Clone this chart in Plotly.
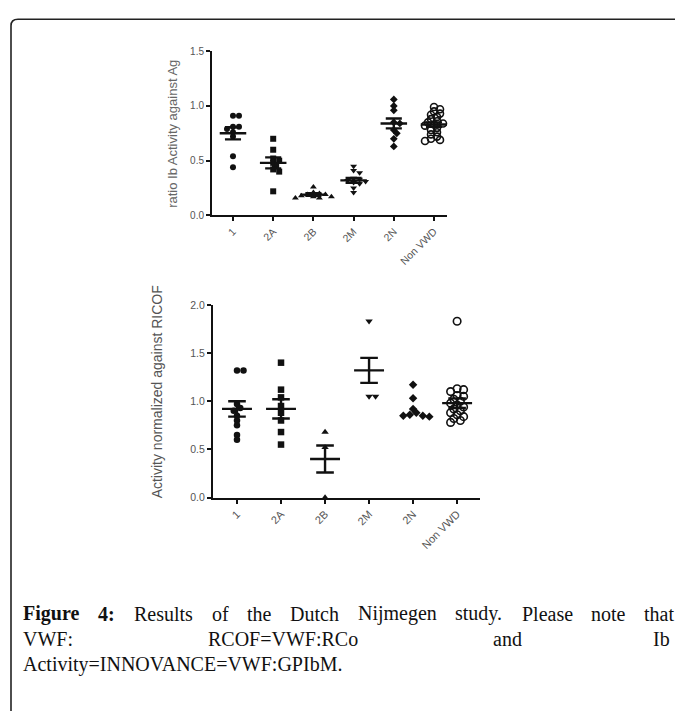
import plotly.graph_objects as go

# ---------------- data ----------------
categories = ["1", "2A", "2B", "2M", "2N", "Non VWD"]

top_1 = [0.91, 0.91, 0.81, 0.81, 0.79, 0.76, 0.72, 0.54, 0.44]
top_2A = [0.70, 0.60, 0.52, 0.50, 0.48, 0.45, 0.42, 0.40, 0.22]
top_2B = [0.26, 0.21, 0.20, 0.19, 0.19, 0.18, 0.17, 0.17, 0.16, 0.16]
top_2M = [0.45, 0.41, 0.39, 0.34, 0.33, 0.32, 0.31, 0.30, 0.29, 0.25, 0.21]
top_2N = [1.06, 1.00, 0.96, 0.85, 0.84, 0.78, 0.75, 0.70, 0.63]
top_NV = [0.99, 0.97, 0.95, 0.93, 0.92, 0.90, 0.88, 0.86, 0.85, 0.84,
          0.83, 0.82, 0.80, 0.78, 0.76, 0.74, 0.72, 0.70, 0.69, 0.68]
top_mean = [0.75, 0.48, 0.19, 0.32, 0.84, 0.83]
top_sem = [0.055, 0.05, 0.012, 0.022, 0.045, 0.02]

bot_1 = [1.32, 1.32, 0.97, 0.93, 0.90, 0.85, 0.80, 0.75, 0.65, 0.60]
bot_2A = [1.40, 1.12, 1.04, 0.95, 0.88, 0.80, 0.68, 0.55]
bot_2B = [0.68, 0.52, 0.00]
bot_2M = [1.83, 1.05, 1.05]
bot_2N = [1.17, 1.03, 0.92, 0.88, 0.86, 0.85, 0.85, 0.84]
bot_NV = [1.83, 1.13, 1.12, 1.10, 1.06, 1.05, 1.02, 1.00, 0.98, 0.96,
          0.94, 0.92, 0.90, 0.88, 0.86, 0.84, 0.82, 0.80, 0.78]
bot_mean = [0.92, 0.92, 0.40, 1.32, None, 0.98]
bot_sem = [0.08, 0.10, 0.14, 0.13, None, 0.05]

top_ticks = [0.0, 0.5, 1.0, 1.5]
bot_ticks = [0.0, 0.5, 1.0, 1.5, 2.0]

top_groups = [top_1, top_2A, top_2B, top_2M, top_2N, top_NV]
bot_groups = [bot_1, bot_2A, bot_2B, bot_2M, bot_2N, bot_NV]

# ---------------- styling ----------------
W, H = 675, 711
symbols = ["circle", "square", "triangle-up", "triangle-down", "diamond", "circle-open"]
INK = "#111111"
TICKCOL = "#555555"


def beeswarm(vals, px_per_unit, px_per_cat, size):
    """Place points side by side (GraphPad style), allowing slight overlap."""
    placed = []
    order = sorted(range(len(vals)), key=lambda i: -vals[i])
    offs = [0.0] * len(vals)
    cands = [0]
    for k in range(1, 8):
        cands += [k, -k]
    for i in order:
        y = vals[i] * px_per_unit
        for c in cands:
            x = c * size * 0.5
            ok = True
            for (px, py) in placed:
                if (px - x) ** 2 + (py - y) ** 2 < (size * 0.72) ** 2:
                    ok = False
                    break
            if ok:
                placed.append((x, y))
                offs[i] = x / px_per_cat
                break
    return offs


fig = go.Figure()

panels = [
    dict(groups=top_groups, mean=top_mean, sem=top_sem, xa="x", ya="y",
         ppu=111.3, ppc=40.2, size=6, mw=0.33, cw=0.2),
    dict(groups=bot_groups, mean=bot_mean, sem=bot_sem, xa="x2", ya="y2",
         ppu=98.0, ppc=44.0, size=6.5, mw=0.34, cw=0.2),
]

for p in panels:
    for gi, vals in enumerate(p["groups"]):
        offs = beeswarm(vals, p["ppu"], p["ppc"], p["size"])
        sym = symbols[gi]
        fig.add_trace(go.Scatter(
            x=[gi + o for o in offs], y=vals, mode="markers",
            xaxis=p["xa"], yaxis=p["ya"], cliponaxis=False, showlegend=False,
            marker=dict(symbol=sym, size=p["size"] if "open" not in sym else p["size"] + 1,
                        color=INK, line=dict(color=INK, width=1.6 if "open" in sym else 0)),
            hoverinfo="skip"))
    # mean and SEM bars
    lx, ly = [], []
    for gi, (m, s) in enumerate(zip(p["mean"], p["sem"])):
        if m is None:
            continue
        lx += [gi - p["mw"], gi + p["mw"], None]
        ly += [m, m, None]
        lx += [gi, gi, None]
        ly += [m - s, m + s, None]
        lx += [gi - p["cw"], gi + p["cw"], None, gi - p["cw"], gi + p["cw"], None]
        ly += [m + s, m + s, None, m - s, m - s, None]
    fig.add_trace(go.Scatter(x=lx, y=ly, mode="lines", xaxis=p["xa"], yaxis=p["ya"],
                             line=dict(color=INK, width=2.4), showlegend=False,
                             cliponaxis=False, hoverinfo="skip"))

axis_common = dict(showgrid=False, zeroline=False, showline=True, linecolor=INK,
                   linewidth=2, ticks="outside", tickcolor=INK, ticklen=4, tickwidth=1.5)

fig.update_layout(
    width=W, height=H, margin=dict(l=0, r=0, t=0, b=0),
    paper_bgcolor="white", plot_bgcolor="white",
    font=dict(family="Liberation Sans, Arial, sans-serif", color=TICKCOL),
    xaxis=dict(domain=[212 / W, 447 / W], range=[-0.522, 5.323], anchor="y",
               tickmode="array", tickvals=list(range(len(categories))), ticktext=categories,
               tickangle=-45, tickfont=dict(size=10.5, color=TICKCOL), **axis_common),
    yaxis=dict(domain=[1 - 213 / H, 1 - 46 / H], range=[0, 1.5], anchor="x",
               tickmode="array", tickvals=top_ticks, ticktext=[f"{v:.1f}" for v in top_ticks],
               tickfont=dict(size=10, color=TICKCOL), **axis_common),
    xaxis2=dict(domain=[213 / W, 480 / W], range=[-0.545, 5.52], anchor="y2",
                tickmode="array", tickvals=list(range(len(categories))), ticktext=categories,
                tickangle=-45, tickfont=dict(size=11, color=TICKCOL), **axis_common),
    yaxis2=dict(domain=[1 - 500 / H, 1 - 304 / H], range=[0, 2.0], anchor="x2",
                tickmode="array", tickvals=bot_ticks, ticktext=[f"{v:.1f}" for v in bot_ticks],
                tickfont=dict(size=10.5, color=TICKCOL), **axis_common),
)

ann = []
ann.append(dict(x=173 / W, y=1 - 130 / H, xref="paper", yref="paper", text="ratio Ib Activity against Ag",
                textangle=-90, showarrow=False, font=dict(size=13, color="#666666"),
                xanchor="center", yanchor="middle"))
ann.append(dict(x=157 / W, y=1 - 393 / H, xref="paper", yref="paper", text="Activity normalized against RICOF",
                textangle=-90, showarrow=False, font=dict(size=14, color="#555555"),
                xanchor="center", yanchor="middle"))

# caption (justified lines, word by word)
serif = "Liberation Serif, Times New Roman, serif"
cap_y = [618, 644, 670]
line1 = [("<b>Figure</b>", 21), ("<b>4:</b>", 96), ("Results", 132), ("of", 210), ("the", 245),
         ("Dutch", 288), ("Nijmegen", 356), ("study.", 453), ("Please", 520), ("note", 589), ("that", 642)]
for w, xp in line1:
    ann.append(dict(x=xp / W, y=1 - cap_y[0] / H, xref="paper", yref="paper", text=w, showarrow=False,
                    xanchor="left", yanchor="middle", font=dict(family=serif, size=20, color="#111111")))
line2 = [("VWF:", 21, "left"), ("RCOF=VWF:RCo", 206, "left"), ("and", 491, "left"), ("Ib", 672, "right")]
for w, xp, xa in line2:
    ann.append(dict(x=xp / W, y=1 - cap_y[1] / H, xref="paper", yref="paper", text=w, showarrow=False,
                    xanchor=xa, yanchor="middle", font=dict(family=serif, size=20, color="#111111")))
ann.append(dict(x=21 / W, y=1 - cap_y[2] / H, xref="paper", yref="paper", text="Activity=INNOVANCE=VWF:GPIbM.",
                showarrow=False, xanchor="left", yanchor="middle",
                font=dict(family=serif, size=20, color="#111111")))
fig.update_layout(annotations=ann)

# rounded frame (top-left corner)
x0 = 11 / W
yt = 1 - 13.5 / H
fig.add_shape(type="path", xref="paper", yref="paper",
              path=f"M {x0},-0.01 L {x0},{1 - 20 / H} Q {x0},{yt} {18 / W},{yt} L 1.01,{yt}",
              line=dict(color="#222222", width=1.6))

fig.write_html("out.html", config={"displayModeBar": False},
               post_script="document.body.style.margin='0';document.body.style.overflow='hidden';")
